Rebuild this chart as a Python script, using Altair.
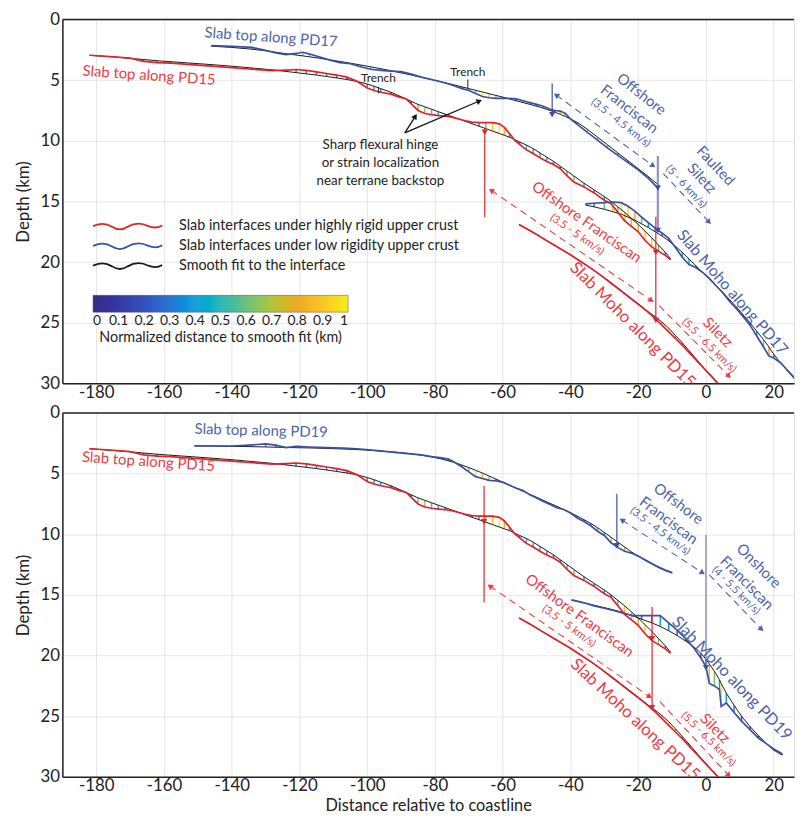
import altair as alt
import pandas as pd

# ---------------- profile data (x = km from coastline, depth in km) ----------------
# Slab top along PD15 (same profile drawn in both panels)
pd15_top_x = [-182, -176, -170, -166, -162, -158, -152, -146, -140, -134, -128, -124, -121, -118, -115, -112,
              -109, -106, -103, -100, -98, -96, -93, -90.5, -88.5, -87, -85, -83, -81, -79, -77, -75, -73, -71,
              -69, -67, -65, -63, -61, -59.5, -58, -56.5, -55, -53, -51, -49, -47, -45, -43, -41, -39, -36, -33,
              -30, -28, -26, -24, -22, -20, -18, -16, -14, -12, -10.5]
pd15_top_depth = [2.95, 3.05, 3.18, 3.45, 3.55, 3.6, 3.72, 3.85, 3.97, 4.1, 4.22, 4.17, 4.12, 4.2, 4.32, 4.45,
                  4.58, 4.75, 5.1, 5.65, 5.85, 6.0, 6.15, 6.4, 6.55, 6.95, 7.5, 7.75, 7.85, 7.92, 7.98, 8.05, 8.2,
                  8.35, 8.45, 8.5, 8.5, 8.5, 8.6, 8.9, 9.4, 9.95, 10.3, 10.75, 11.05, 11.4, 11.7, 11.95, 12.3,
                  12.9, 13.4, 13.8, 14.3, 14.9, 15.2, 15.9, 16.6, 17.05, 17.5, 18.2, 18.75, 19.1, 19.45, 19.8]
pd15_top_fit = [2.95, 3.07, 3.2, 3.3, 3.4, 3.48, 3.6, 3.72, 3.85, 4.0, 4.15, 4.28, 4.38, 4.48, 4.58, 4.7,
                4.82, 4.95, 5.1, 5.32, 5.5, 5.7, 6.0, 6.3, 6.55, 6.75, 7.0, 7.2, 7.4, 7.6, 7.8, 8.0, 8.2, 8.4,
                8.6, 8.8, 9.0, 9.2, 9.4, 9.55, 9.7, 9.9, 10.1, 10.35, 10.65, 11.0, 11.35, 11.7, 12.1, 12.5,
                12.9, 13.5, 14.05, 14.6, 15.0, 15.45, 15.9, 16.4, 16.9, 17.45, 18.0, 18.6, 19.2, 19.7]

# Slab Moho along PD15
pd15_moho_x = [-55.2, -52, -49, -46, -43, -40, -37, -34, -31, -28, -25, -22, -19, -17, -15, -13, -11, -9, -7,
               -5, -3, -1, 1, 3, 4]
pd15_moho_depth = [16.9, 17.4, 17.9, 18.4, 18.9, 19.4, 19.95, 20.5, 21.1, 21.75, 22.4, 23.05, 23.7, 24.15,
                   24.65, 25.2, 25.75, 26.3, 26.85, 27.45, 28.05, 28.65, 29.25, 29.85, 30.15]
pd15_moho_fit = [16.9, 17.4, 17.9, 18.4, 18.9, 19.4, 19.95, 20.5, 21.1, 21.7, 22.35, 23.0, 23.65, 24.1, 24.5,
                 24.95, 25.45, 26.05, 26.65, 27.3, 27.95, 28.6, 29.2, 29.8, 30.1]

# Slab top along PD17 (upper panel)
pd17_top_x = [-146, -140, -134, -130, -127, -124, -121, -119, -117, -114, -111, -108, -105, -102, -99, -96, -93,
              -90, -87, -84, -81, -78, -75, -72, -70, -68, -66, -64, -62, -60, -58, -56, -54, -52, -50, -48, -46,
              -44.5, -43, -41.5, -40, -38, -35, -32, -29, -26, -23, -20, -17, -14.2]
pd17_top_depth = [2.15, 2.22, 2.3, 2.55, 2.75, 2.9, 2.8, 2.7, 2.85, 3.1, 3.35, 3.55, 3.65, 3.9, 4.1, 4.2, 4.25,
                  4.3, 4.5, 4.75, 4.95, 5.15, 5.4, 5.7, 5.85, 6.1, 6.35, 6.45, 6.5, 6.5, 6.5, 6.55, 6.7, 6.85,
                  7.0, 7.15, 7.4, 7.5, 7.55, 7.75, 8.2, 8.65, 9.3, 9.95, 10.6, 11.2, 11.8, 12.4, 13.1, 13.9]
pd17_top_fit = [2.2, 2.3, 2.45, 2.58, 2.7, 2.82, 2.93, 3.0, 3.08, 3.2, 3.33, 3.46, 3.6, 3.75, 3.9, 4.06, 4.22,
                4.4, 4.58, 4.77, 4.96, 5.15, 5.35, 5.56, 5.7, 5.84, 5.98, 6.12, 6.26, 6.4, 6.55, 6.7, 6.85, 7.0,
                7.15, 7.32, 7.5, 7.65, 7.82, 8.0, 8.2, 8.48, 9.05, 9.7, 10.35, 11.0, 11.65, 12.3, 12.95, 13.6]

# Slab Moho along PD17 (upper panel)
pd17_moho_x = [-35.5, -33, -30, -27.5, -25, -23, -21, -19, -17, -15, -13, -11, -9, -7, -5, -3, -1, 1, 3, 5, 7,
               9, 11, 13, 15, 17, 18.6, 20, 22, 24, 26]
pd17_moho_depth = [15.2, 15.15, 15.1, 15.05, 15.1, 15.4, 15.8, 16.3, 16.75, 17.2, 17.6, 18.05, 18.8, 19.6,
                   20.2, 20.45, 20.85, 21.35, 21.95, 22.55, 23.25, 23.85, 24.5, 25.2, 26.1, 27.0, 27.75, 27.9,
                   28.3, 28.9, 29.5]
pd17_moho_fit = [15.3, 15.45, 15.65, 15.85, 16.05, 16.3, 16.55, 16.85, 17.15, 17.5, 17.85, 18.25, 18.7, 19.2,
                 19.75, 20.3, 20.85, 21.4, 21.95, 22.5, 23.1, 23.7, 24.35, 25.0, 25.7, 26.4, 27.0, 27.6, 28.3,
                 28.95, 29.6]

# Slab top along PD19 (lower panel)
pd19_top_x = [-151, -145, -140, -135, -130, -127, -124, -121, -117, -112, -107, -102, -97, -92, -88, -84, -81,
              -78, -76, -74, -72, -70, -68, -66, -64, -62, -60, -58, -56, -54, -52, -50, -48, -46, -44, -42, -40,
              -38, -36, -34, -32, -30, -28, -26, -24, -22, -20, -18, -16, -14, -12, -10]
pd19_top_depth = [2.7, 2.72, 2.72, 2.65, 2.55, 2.65, 2.85, 2.75, 2.8, 2.85, 2.9, 2.97, 3.1, 3.25, 3.35, 3.45,
                  3.6, 3.7, 3.8, 4.1, 4.45, 4.85, 5.25, 5.4, 5.55, 5.6, 5.7, 5.95, 6.2, 6.4, 6.75, 7.0, 7.3,
                  7.55, 7.8, 7.95, 8.25, 8.65, 8.95, 9.3, 9.75, 10.1, 10.7, 11.1, 11.4, 11.55, 11.8, 12.1, 12.4,
                  12.7, 12.95, 13.15]
pd19_top_fit = [2.72, 2.73, 2.75, 2.77, 2.8, 2.82, 2.84, 2.86, 2.88, 2.92, 2.97, 3.03, 3.12, 3.22, 3.33, 3.48,
                3.62, 3.8, 3.95, 4.1, 4.3, 4.5, 4.72, 4.95, 5.2, 5.45, 5.7, 5.95, 6.2, 6.45, 6.7, 6.95, 7.2,
                7.45, 7.7, 7.95, 8.22, 8.5, 8.8, 9.1, 9.45, 9.85, 10.25, 10.65, 11.05, 11.45, 11.8, 12.15,
                12.45, 12.75, 13.0, 13.2]

# Slab Moho along PD19 (lower panel)
pd19_moho_x = [-39.6, -36, -33, -30, -27, -24, -21.5, -19, -16, -13.5, -11, -8.5, -6, -3.5, -1.5, 0, 1, 2.5,
               4, 4.5, 6, 8.3, 10.5, 13, 15.5, 18, 20, 22.5]
pd19_moho_depth = [15.4, 15.65, 15.9, 16.1, 16.3, 16.55, 16.7, 16.7, 16.7, 16.7, 17.3, 17.9, 18.6, 19.4, 20.2,
                   20.9, 22.3, 22.5, 22.8, 24.2, 23.9, 24.7, 25.4, 26.1, 26.8, 27.3, 27.7, 28.1]
pd19_moho_fit = [15.45, 15.65, 15.85, 16.05, 16.25, 16.5, 16.75, 17.0, 17.3, 17.6, 17.95, 18.35, 18.8, 19.3,
                 19.8, 20.3, 20.7, 21.3, 22.0, 22.3, 23.1, 24.1, 25.0, 25.85, 26.6, 27.3, 27.8, 28.2]

X_TICKS = [-180, -160, -140, -120, -100, -80, -60, -40, -20, 0, 20]
Y_TICKS = [0, 5, 10, 15, 20, 25, 30]
CBAR_TICKS = [0, 0.1, 0.2, 0.3, 0.4, 0.5, 0.6, 0.7, 0.8, 0.9, 1]

# ---------------- styles ----------------
RED, BLUE = "#e42129", "#3a51a0"
RED_T, BLUE_T = "#ee3b44", "#4d63ac"
INK = "#222222"
FONT = "Lato"
RIGID = "Slab interfaces under highly rigid upper crust"
LOWRIG = "Slab interfaces under low rigidity upper crust"
SMOOTH = "Smooth fit to the interface"
PARULA = ["#352a87", "#3538a2", "#3450be", "#2b74d4", "#1aa0dc", "#30b7b6", "#6cc07c", "#b4c43c",
          "#efa928", "#f8c823", "#f5ee1c"]
WAVE = "M-1,0C-0.8,-0.08,-0.65,-0.1,-0.45,0.02C-0.3,0.12,-0.15,0.12,0,0.02C0.2,-0.1,0.4,-0.1,0.6,0C0.8,0.08,0.9,0.04,1,-0.02"

AXIS_STYLE = dict(grid=True, gridColor="#e6e6e6", gridWidth=1, ticks=False, domain=True, domainColor=INK,
                  domainWidth=1.5, labelFontSize=17, labelColor=INK, labelFont=FONT,
                  titleFont=FONT, titleFontWeight="normal", titleColor=INK,
                  labelExpr="datum.value + ''")

# ---------------- annotations (position in km / depth) ----------------
TOP_TEXT = [
    ("Slab top along PD17", -128.4, 1.45, 4, BLUE_T, 15),
    ("Slab top along PD15", -164.4, 4.6, 4, RED_T, 15),
    ("Trench", -96.7, 4.82, 0, INK, 12),
    ("Trench", -70.3, 4.33, 0, INK, 12),
    ("Sharp flexural hinge", -96.1, 10.35, 0, INK, 13.5),
    ("or strain localization", -96.1, 11.8, 0, INK, 13.5),
    ("near terrane backstop", -96.1, 13.28, 0, INK, 13.5),
    ("Offshore", -19.0, 6.16, 38, BLUE_T, 15),
    ("Franciscan", -22.6, 7.38, 38, BLUE_T, 15),
    ("(3.5 - 4.5 km/s)", -25.2, 8.54, 38, BLUE_T, 11),
    ("Faulted", 2.9, 12.06, 47, BLUE_T, 15),
    ("Siletz", -1.2, 13.1, 47, BLUE_T, 15),
    ("(5 - 6 km/s)", -5.9, 13.8, 47, BLUE_T, 11),
    ("Offshore Franciscan", -35.2, 16.7, 35, RED_T, 15),
    ("(3.5 - 5 km/s)", -38.1, 17.75, 35, RED_T, 11),
    ("Slab Moho along PD15", -21.7, 25.2, 45, RED_T, 17),
    ("Siletz", 3.5, 25.8, 45, RED_T, 15),
    ("(5.5 - 6.5 km/s)", 0.9, 26.9, 45, RED_T, 11),
    ("Slab Moho along PD17", 7.75, 22.5, 49, BLUE_T, 16),
]
TOP_SOLID = [
    (-45.4, 5.28, -45.4, 7.85, BLUE, 1.2),
    (-14.2, 11.25, -14.2, 17.5, "#8f92c9", 2.2),
    (-65.3, 8.97, -65.3, 16.3, RED, 1.2),
    (-14.8, 16.26, -14.8, 24.93, RED, 1.2),
    (-88.9, 9.35, -85.8, 7.99, "#111111", 1.3),
    (-88.9, 9.35, -66.9, 6.72, "#111111", 1.3),
    (-96.7, 5.55, -96.7, 6.1, INK, 1),
    (-70.3, 4.95, -70.3, 5.65, INK, 1),
]
TOP_DASHED = [
    (-44.2, 6.23, -15.6, 12.06, BLUE_T),
    (-12.6, 12.7, 0.9, 16.7, BLUE_T),
    (-63.4, 14.09, -16.1, 23.17, RED_T),
    (-13.8, 23.6, 6.8, 29.4, RED_T),
]
TOP_HEADS = [
    (-45.4, 7.85, 90, BLUE), (-14.2, 13.9, 90, BLUE), (-14.2, 17.4, 90, BLUE),
    (-65.3, 9.3, 90, RED), (-14.8, 19.2, 90, RED), (-14.8, 24.8, 90, RED),
    (-85.8, 7.99, 302, "#111111"), (-66.9, 6.72, 337, "#111111"),
    (-44.2, 6.23, 216, BLUE_T), (-15.6, 12.06, 36, BLUE_T), (0.9, 16.7, 47, BLUE_T),
    (-63.4, 14.09, 215, RED_T), (-16.1, 23.17, 35, RED_T), (6.8, 29.4, 45, RED_T),
]

BOT_TEXT = [
    ("Slab top along PD19", -131.3, 1.45, 1.5, BLUE_T, 15),
    ("Slab top along PD15", -164.6, 4.0, 4, RED_T, 15),
    ("Offshore", -8.1, 7.47, 37, BLUE_T, 15),
    ("Franciscan", -11.0, 8.86, 37, BLUE_T, 15),
    ("(3.5 - 4.5 km/s)", -13.6, 9.76, 37, BLUE_T, 11),
    ("Onshore", 15.6, 12.6, 45, BLUE_T, 15),
    ("Franciscan", 12.1, 14.0, 45, BLUE_T, 15),
    ("(4 - 5.5 km/s)", 8.8, 14.65, 45, BLUE_T, 11),
    ("Offshore Franciscan", -37.3, 16.7, 36, RED_T, 15),
    ("(3.5 - 5 km/s)", -40.5, 17.6, 36, RED_T, 11),
    ("Slab Moho along PD15", -20.9, 25.3, 43, RED_T, 17),
    ("Siletz", 2.7, 26.0, 45, RED_T, 15),
    ("(5.5 - 6.5 km/s)", 0.7, 26.9, 45, RED_T, 11),
    ("Slab Moho along PD19", 7.6, 21.9, 46, BLUE_T, 16.5),
]
BOT_SOLID = [
    (-65.5, 6.02, -65.5, 15.63, RED, 1.2),
    (-15.9, 16.0, -15.9, 24.3, RED, 1.2),
    (-26.3, 6.65, -26.3, 11.0, BLUE, 1.2),
    (0, 10.06, 0, 21.1, "#6f79b8", 1.2),
]
BOT_DASHED = [
    (-24.8, 8.83, -1.0, 13.18, BLUE_T),
    (1.0, 13.35, 16.4, 17.84, BLUE_T),
    (-63.8, 14.27, -16.6, 23.4, RED_T),
    (-13.6, 23.8, 6.8, 29.9, RED_T),
]
BOT_HEADS = [
    (-65.5, 8.96, 90, RED), (-15.9, 18.6, 90, RED), (-15.9, 24.3, 90, RED),
    (-26.3, 10.95, 90, BLUE), (0, 21.0, 90, BLUE),
    (-24.8, 8.83, 213, BLUE_T), (-1.0, 13.18, 33, BLUE_T), (16.4, 17.84, 46, BLUE_T),
    (-63.8, 14.27, 215, RED_T), (-16.6, 23.4, 35, RED_T), (6.8, 29.9, 47, RED_T),
]


def build_frames(profiles):
    line_rows, hatch_rows = [], []
    for name, kind, xs, ds, fs in profiles:
        for i, (x, d, f) in enumerate(zip(xs, ds, fs)):
            line_rows.append({"series": name, "role": "interface", "kind": kind, "x": x, "d": d, "order": i})
            line_rows.append({"series": name, "role": "fit", "kind": SMOOTH, "x": x, "d": f, "order": i})
            hatch_rows.append({"series": name, "x": x, "depth": d, "fit": f})
    return pd.DataFrame(line_rows), pd.DataFrame(hatch_rows)


def X(field, xtitle):
    return alt.X(f"{field}:Q", scale=alt.Scale(domain=[-190, 26], nice=False, zero=False),
                 axis=alt.Axis(values=X_TICKS, title=xtitle, titlePadding=4, titleFontSize=16.5,
                               labelPadding=1, **AXIS_STYLE))


def Y(field):
    return alt.Y(f"{field}:Q", scale=alt.Scale(domain=[0, 30], reverse=True, nice=False, zero=False),
                 axis=alt.Axis(values=Y_TICKS, title="Depth (km)", titlePadding=8, titleFontSize=17,
                               labelPadding=3, **AXIS_STYLE))


def make_panel(profiles, texts, solids, dashes, heads, show_legend, xtitle):
    lines_df, hatch_df = build_frames(profiles)

    frame = alt.Chart(pd.DataFrame({"d": [0]})).mark_rule(color=INK, strokeWidth=1.5).encode(y=Y("d"))

    if show_legend:
        grad_legend = alt.Legend(orient="none", legendX=31, legendY=279, direction="horizontal",
                                 gradientLength=258, gradientThickness=17,
                                 title="Normalized distance to smooth fit (km)", titleOrient="bottom",
                                 titleAnchor="middle", titleFontSize=14.5, titleFontWeight="normal",
                                 titleColor=INK, titleFont=FONT, titlePadding=3, titleLimit=500,
                                 labelFontSize=14, labelColor=INK, labelFont=FONT, labelAlign="center",
                                 values=CBAR_TICKS, format="~g", labelOverlap=False,
                                 gradientStrokeColor="#555", gradientStrokeWidth=0.5, padding=0)
        line_legend = alt.Legend(orient="none", legendX=30, legendY=199, title=None, symbolType=WAVE,
                                 symbolSize=4900, clipHeight=20, labelFontSize=14.5, labelColor=INK,
                                 labelFont=FONT, labelOffset=16, symbolStrokeWidth=1.8, rowPadding=0,
                                 padding=0, labelLimit=500)
    else:
        grad_legend = None
        line_legend = None

    hatch = alt.Chart(hatch_df).transform_calculate(
        dev="abs(datum.depth - datum.fit)"
    ).transform_joinaggregate(maxdev="max(dev)", groupby=["series"]).transform_calculate(
        norm="datum.maxdev > 0 ? datum.dev / datum.maxdev : 0"
    ).mark_rule(strokeWidth=1.5, clip=True).encode(
        x=X("x", xtitle), y=Y("fit"), y2=alt.Y2("depth:Q"),
        color=alt.Color("norm:Q", scale=alt.Scale(domain=CBAR_TICKS, range=PARULA), legend=grad_legend),
    )

    color_scale = alt.Scale(domain=[RIGID, LOWRIG, SMOOTH], range=[RED, BLUE, "#1a1a1a"])
    fits = alt.Chart(lines_df).transform_filter("datum.role == 'fit'").mark_line(
        strokeWidth=1.0, clip=True).encode(
        x=X("x", xtitle), y=Y("d"), detail="series:N", order="order:Q",
        color=alt.Color("kind:N", scale=color_scale, legend=line_legend))
    inter = alt.Chart(lines_df).transform_filter("datum.role == 'interface'").mark_line(
        strokeWidth=1.7, clip=True).encode(
        x=X("x", xtitle), y=Y("d"), detail="series:N", order="order:Q",
        color=alt.Color("kind:N", scale=color_scale, legend=line_legend))
    lines = alt.layer(fits, inter)

    solid_df = pd.DataFrame(solids, columns=["x", "y", "x2", "y2", "c", "w"])
    solid = alt.Chart(solid_df).mark_rule(clip=True).encode(
        x=X("x", xtitle), y=Y("y"), x2="x2:Q", y2="y2:Q",
        color=alt.Color("c:N", scale=None), strokeWidth=alt.StrokeWidth("w:Q", scale=None))

    dash_df = pd.DataFrame(dashes, columns=["x", "y", "x2", "y2", "c"])
    dashed = alt.Chart(dash_df).mark_rule(strokeDash=[7, 5], strokeWidth=1.1, clip=True).encode(
        x=X("x", xtitle), y=Y("y"), x2="x2:Q", y2="y2:Q", color=alt.Color("c:N", scale=None))

    head_df = pd.DataFrame(heads, columns=["x", "y", "a", "c"])
    arrowheads = alt.Chart(head_df).mark_point(shape="triangle-right", filled=True, size=40, opacity=1,
                                               clip=True).encode(
        x=X("x", xtitle), y=Y("y"), angle=alt.Angle("a:Q", scale=None),
        color=alt.Color("c:N", scale=None))

    text_df = pd.DataFrame(texts, columns=["t", "x", "y", "a", "c", "s"])
    labels = alt.Chart(text_df).mark_text(font=FONT, align="center", baseline="middle", clip=True).encode(
        x=X("x", xtitle), y=Y("y"), text="t:N", angle=alt.Angle("a:Q", scale=None),
        color=alt.Color("c:N", scale=None), size=alt.Size("s:Q", scale=None))

    return alt.layer(frame, hatch, lines, solid, dashed, arrowheads, labels).resolve_scale(
        color="independent").properties(width=740, height=368)


top_profiles = [
    ("pd15_top", RIGID, pd15_top_x, pd15_top_depth, pd15_top_fit),
    ("pd17_top", LOWRIG, pd17_top_x, pd17_top_depth, pd17_top_fit),
    ("pd15_moho", RIGID, pd15_moho_x, pd15_moho_depth, pd15_moho_fit),
    ("pd17_moho", LOWRIG, pd17_moho_x, pd17_moho_depth, pd17_moho_fit),
]
bottom_profiles = [
    ("pd15_top", RIGID, pd15_top_x, pd15_top_depth, pd15_top_fit),
    ("pd19_top", LOWRIG, pd19_top_x, pd19_top_depth, pd19_top_fit),
    ("pd15_moho", RIGID, pd15_moho_x, pd15_moho_depth, pd15_moho_fit),
    ("pd19_moho", LOWRIG, pd19_moho_x, pd19_moho_depth, pd19_moho_fit),
]

top = make_panel(top_profiles, TOP_TEXT, TOP_SOLID, TOP_DASHED, TOP_HEADS, True, None)
bottom = make_panel(bottom_profiles, BOT_TEXT, BOT_SOLID, BOT_DASHED, BOT_HEADS, False,
                    "Distance relative to coastline")

chart = alt.vconcat(top, bottom, spacing=2).properties(
    padding={"left": 5, "top": -3, "right": 0, "bottom": 0}
).configure_view(stroke=None).configure(font=FONT)

chart.save("out.html", embed_options={"renderer": "svg", "actions": False})
